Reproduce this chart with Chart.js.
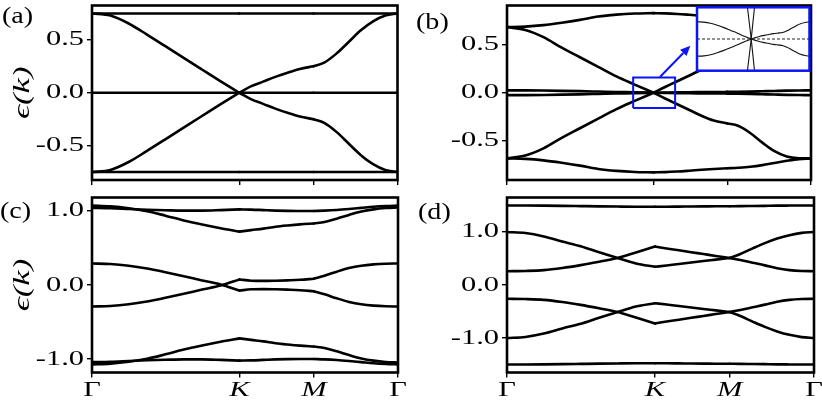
<!DOCTYPE html>
<html><head><meta charset="utf-8">
<script src="https://cdn.jsdelivr.net/npm/chart.js@4/dist/chart.umd.min.js"></script>
<style>
html,body{margin:0;padding:0;background:#fff;}
#wrap{position:relative;width:822px;height:403px;overflow:hidden;background:#fff;}
canvas{position:absolute;left:0;top:0;}
.plab{position:absolute;font-family:'Liberation Serif',serif;font-size:24px;line-height:24px;transform-origin:0 0;transform:scaleX(1.17);color:#000;white-space:nowrap;}
</style></head><body>
<div id="wrap">
<canvas id="ca" width="822" height="403"></canvas>
<canvas id="cb" width="822" height="403"></canvas>
<canvas id="cc" width="822" height="403"></canvas>
<canvas id="cd" width="822" height="403"></canvas>
<canvas id="ci" width="822" height="403"></canvas>
<div class="plab" style="left:2px;top:3px">(a)</div>
<div class="plab" style="left:416px;top:9px">(b)</div>
<div class="plab" style="left:0px;top:198px">(c)</div>
<div class="plab" style="left:418px;top:199px">(d)</div>
</div>
<script>
// ---------- path along the Brillouin zone ----------
const kPath = [0, 0.06, 0.12, 0.18, 0.24, 0.30, 0.36, 0.42, 0.482, 0.52, 0.56, 0.60, 0.64, 0.68, 0.725, 0.76, 0.80, 0.84, 0.88, 0.92, 0.96, 1.0];
const kTicks = [0, 0.482, 0.725, 1];
const kLabels = ['Γ', 'K', 'M', 'Γ'];
const kLabelStyles = ['normal', 'italic', 'italic', 'normal'];

// ---------- y tick values / labels ----------
const yTicksSmall = [-0.5, 0, 0.5];
const yLabelsSmall = ['-0.5', '0.0', '0.5'];
const yTicksLarge = [-1, 0, 1];
const yLabelsLarge = ['-1.0', '0.0', '1.0'];
const yTitle = 'ϵ(k)';

// ---------- panel (a) ----------
const aFlatUp   = [0.75,0.75,0.75,0.75,0.75,0.75,0.75,0.75,0.75,0.75,0.75,0.75,0.75,0.75,0.75,0.75,0.75,0.75,0.75,0.75,0.75,0.75];
const aFlatZero = [0,0,0,0,0,0,0,0,0,0,0,0,0,0,0,0,0,0,0,0,0,0];
const aFlatDown = [-0.75,-0.75,-0.75,-0.75,-0.75,-0.75,-0.75,-0.75,-0.75,-0.75,-0.75,-0.75,-0.75,-0.75,-0.75,-0.75,-0.75,-0.75,-0.75,-0.75,-0.75,-0.75];
const aCross1 = [0.75, 0.73, 0.655, 0.55, 0.44, 0.33, 0.22, 0.11, 0, -0.06, -0.105, -0.15, -0.19, -0.225, -0.25, -0.285, -0.37, -0.48, -0.59, -0.675, -0.73, -0.75];
const aCross2 = [-0.75, -0.73, -0.655, -0.55, -0.44, -0.33, -0.22, -0.11, 0, 0.06, 0.105, 0.15, 0.19, 0.225, 0.25, 0.285, 0.37, 0.48, 0.59, 0.675, 0.73, 0.75];

// ---------- panel (b) ----------
const bTop    = [0.685, 0.69, 0.705, 0.73, 0.76, 0.795, 0.815, 0.826, 0.83, 0.828, 0.822, 0.813, 0.803, 0.795, 0.788, 0.782, 0.772, 0.755, 0.732, 0.71, 0.692, 0.685];
const bCross1 = [0.685, 0.655, 0.58, 0.47, 0.37, 0.27, 0.17, 0.085, 0, -0.06, -0.12, -0.18, -0.24, -0.29, -0.32, -0.345, -0.42, -0.52, -0.61, -0.665, -0.683, -0.685];
const bNear1  = [0.025, 0.0245, 0.0228, 0.020, 0.0165, 0.0125, 0.0085, 0.004, 0, 0.002, 0.004, 0.0053, 0.0066, 0.0078, 0.0087, 0.0094, 0.012, 0.0155, 0.019, 0.0222, 0.024, 0.025];
const bNear2  = [-0.025, -0.0245, -0.0228, -0.020, -0.0165, -0.0125, -0.0085, -0.004, 0, -0.002, -0.004, -0.0053, -0.0066, -0.0078, -0.0087, -0.0094, -0.012, -0.0155, -0.019, -0.0222, -0.024, -0.025];
const bCross2 = [-0.685, -0.655, -0.58, -0.47, -0.37, -0.27, -0.17, -0.085, 0, 0.06, 0.12, 0.18, 0.24, 0.29, 0.32, 0.345, 0.42, 0.52, 0.61, 0.665, 0.683, 0.685];
const bBottom = [-0.685, -0.69, -0.705, -0.73, -0.76, -0.795, -0.815, -0.826, -0.83, -0.828, -0.822, -0.813, -0.803, -0.795, -0.788, -0.782, -0.772, -0.755, -0.732, -0.71, -0.692, -0.685];
const insetZeroX = [0, 1];
const insetZeroY = [0, 0];
const zoomBoxX = [0.415, 0.553, 0.553, 0.415, 0.415];
const zoomBoxY = [-0.16, -0.16, 0.16, 0.16, -0.16];
const arrowX = [0.503, 0.603];
const arrowY = [0.165, 0.49];

// ---------- panel (c) ----------
const cFlatTop = [1.04, 1.035, 1.025, 1.015, 1.008, 1.003, 1.003, 1.01, 1.02, 1.017, 1.01, 1.003, 0.999, 0.997, 0.998, 1.003, 1.012, 1.025, 1.04, 1.055, 1.065, 1.07];
const cDispTop = [1.07, 1.06, 1.035, 0.995, 0.935, 0.87, 0.815, 0.765, 0.72, 0.74, 0.76, 0.785, 0.803, 0.818, 0.83, 0.85, 0.895, 0.945, 0.99, 1.02, 1.038, 1.045];
const cMid1 = [0.29, 0.283, 0.26, 0.222, 0.172, 0.118, 0.062, 0.008, -0.075, -0.058, -0.055, -0.058, -0.063, -0.07, -0.085, -0.125, -0.18, -0.228, -0.26, -0.278, -0.287, -0.29];
const cMid2 = [-0.29, -0.283, -0.26, -0.222, -0.172, -0.118, -0.062, -0.008, 0.075, 0.058, 0.055, 0.058, 0.063, 0.07, 0.085, 0.125, 0.18, 0.228, 0.26, 0.278, 0.287, 0.29];
const cDispBot = [-1.07, -1.06, -1.035, -0.995, -0.935, -0.87, -0.815, -0.765, -0.72, -0.74, -0.76, -0.785, -0.803, -0.818, -0.83, -0.85, -0.895, -0.945, -0.99, -1.02, -1.038, -1.045];
const cFlatBot = [-1.04, -1.035, -1.025, -1.015, -1.008, -1.003, -1.003, -1.01, -1.02, -1.017, -1.01, -1.003, -0.999, -0.997, -0.998, -1.003, -1.012, -1.025, -1.04, -1.055, -1.065, -1.07];

// ---------- panel (d) ----------
const dTop = [1.5, 1.499, 1.497, 1.493, 1.488, 1.483, 1.479, 1.476, 1.475, 1.476, 1.478, 1.48, 1.482, 1.484, 1.485, 1.487, 1.49, 1.493, 1.496, 1.498, 1.5, 1.5];
const dUp1 = [1.0, 0.98, 0.916, 0.82, 0.73, 0.617, 0.51, 0.405, 0.343, 0.369, 0.397, 0.424, 0.452, 0.479, 0.51, 0.585, 0.69, 0.79, 0.875, 0.94, 0.983, 1.0];
const dUp2 = [0.26, 0.265, 0.28, 0.32, 0.375, 0.44, 0.51, 0.615, 0.725, 0.69, 0.655, 0.619, 0.584, 0.548, 0.51, 0.47, 0.42, 0.37, 0.315, 0.28, 0.264, 0.26];
const dDn2 = [-0.26, -0.265, -0.28, -0.32, -0.375, -0.44, -0.51, -0.615, -0.725, -0.69, -0.655, -0.619, -0.584, -0.548, -0.51, -0.47, -0.42, -0.37, -0.315, -0.28, -0.264, -0.26];
const dDn1 = [-1.0, -0.98, -0.916, -0.82, -0.73, -0.617, -0.51, -0.405, -0.343, -0.369, -0.397, -0.424, -0.452, -0.479, -0.51, -0.585, -0.69, -0.79, -0.875, -0.94, -0.983, -1.0];
const dBot = [-1.5, -1.499, -1.497, -1.493, -1.488, -1.483, -1.479, -1.476, -1.475, -1.476, -1.478, -1.48, -1.482, -1.484, -1.485, -1.487, -1.49, -1.493, -1.496, -1.498, -1.5, -1.5];

// ---------- styling ----------
const FONT = "'Liberation Serif', 'DejaVu Serif', serif";
const STRETCH = 1.45;
const BLUE = '#0a14f5';

function stretchText(ctx) {
  const orig = ctx.fillText;
  ctx.fillText = function (t, x, y, mw) {
    this.save();
    this.scale(STRETCH, 1);
    if (mw !== undefined && mw !== null) orig.call(this, t, x / STRETCH, y, mw);
    else orig.call(this, t, x / STRETCH, y);
    this.restore();
  };
}

const framePlugin = {
  id: 'frame',
  afterDatasetsDraw(chart, args, opts) {
    const {ctx, chartArea: a} = chart;
    ctx.save();
    ctx.strokeStyle = opts.color || '#000';
    ctx.lineWidth = opts.width || 2.6;
    ctx.strokeRect(a.left, a.top, a.right - a.left, a.bottom - a.top);
    ctx.restore();
  }
};
const bgPlugin = {
  id: 'bg',
  beforeDatasetsDraw(chart) {
    const {ctx, chartArea: a} = chart;
    ctx.save(); ctx.fillStyle = '#fff';
    ctx.fillRect(a.left, a.top, a.right - a.left, a.bottom - a.top);
    ctx.restore();
  }
};
const arrowPlugin = {
  id: 'arrow',
  afterDatasetsDraw(chart) {
    const {ctx, scales: {x, y}} = chart;
    const x0 = x.getPixelForValue(arrowX[0]), y0 = y.getPixelForValue(arrowY[0]);
    const x1 = x.getPixelForValue(arrowX[1]), y1 = y.getPixelForValue(arrowY[1]);
    const ang = Math.atan2(y1 - y0, x1 - x0), hl = 10, hw = 4.5;
    const bx = x1 - hl * Math.cos(ang), by = y1 - hl * Math.sin(ang);
    ctx.save();
    ctx.strokeStyle = BLUE; ctx.fillStyle = BLUE; ctx.lineWidth = 2;
    ctx.beginPath(); ctx.moveTo(x0, y0); ctx.lineTo(bx, by); ctx.stroke();
    ctx.beginPath(); ctx.moveTo(x1, y1);
    ctx.lineTo(bx + hw * Math.sin(ang), by - hw * Math.cos(ang));
    ctx.lineTo(bx - hw * Math.sin(ang), by + hw * Math.cos(ang));
    ctx.closePath(); ctx.fill();
    ctx.restore();
  }
};

// each band is split at the high-symmetry points (K, M) so kinks stay sharp,
// and each piece is drawn as a smooth monotone curve
const segBounds = kTicks.map(t => kPath.indexOf(t));
function band(ys, extra) {
  const out = [];
  for (let s = 0; s < segBounds.length - 1; s++) {
    const i0 = segBounds[s], i1 = segBounds[s + 1];
    const pts = [];
    for (let i = i0; i <= i1; i++) pts.push({x: kPath[i], y: ys[i]});
    out.push(Object.assign({
      data: pts, borderColor: '#000', borderWidth: 2.6, pointRadius: 0,
      cubicInterpolationMode: 'monotone', fill: false, borderCapStyle: 'round', borderJoinStyle: 'round'
    }, extra || {}));
  }
  return out;
}
function xyLine(xs, ys, extra) {
  return Object.assign({
    data: xs.map((x, i) => ({x: x, y: ys[i]})),
    borderColor: '#000', borderWidth: 1, pointRadius: 0, tension: 0, fill: false
  }, extra || {});
}

const gridOpts = {display: true, drawOnChartArea: false, drawTicks: true, tickLength: 5,
  tickWidth: 1.4, lineWidth: 1.4, tickColor: '#000', color: '#000'};

function makePanel(id, o) {
  const ctx = document.getElementById(id).getContext('2d');
  stretchText(ctx);
  return new Chart(ctx, {
    type: 'line',
    data: {datasets: o.datasets},
    options: {
      responsive: false, animation: false, devicePixelRatio: 1,
      layout: {padding: o.pad},
      plugins: {legend: {display: false}, tooltip: {enabled: false}, frame: {color: '#000', width: 2.6}},
      scales: {
        x: {
          type: 'linear', min: 0, max: 1, position: 'bottom', bounds: 'data',
          afterBuildTicks: s => { s.ticks = kTicks.map(v => ({value: v})); },
          afterFit: s => { s.height = o.xh; s.paddingLeft = 0; s.paddingRight = 0; },
          grid: gridOpts, border: {display: false},
          ticks: {
            display: o.xLabels, autoSkip: false, maxRotation: 0, minRotation: 0, padding: 0, color: '#000',
            font: c => ({family: FONT, size: 21, style: kLabelStyles[c.index] || 'normal'}),
            callback: (v, i) => kLabels[i]
          }
        },
        y: {
          type: 'linear', min: -o.lim, max: o.lim, position: 'left', bounds: 'data',
          afterBuildTicks: s => { s.ticks = o.yTicks.map(v => ({value: v})); },
          afterFit: s => { s.width = o.yw; s.paddingTop = 0; s.paddingBottom = 0; },
          grid: gridOpts, border: {display: false},
          ticks: {autoSkip: false, padding: 3, color: '#000', font: {family: FONT, size: 21},
            callback: (v, i) => o.yLabels[i]},
          title: {display: !!o.title, text: o.title || '', color: '#000',
            font: {family: FONT, size: 24, style: 'italic'}, padding: {top: 8, bottom: 0}}
        }
      }
    },
    plugins: [framePlugin].concat(o.plugins || [])
  });
}

// (a)
makePanel('ca', {
  pad: {left: 0, top: 5.5, right: 424.5, bottom: 213}, xh: 10, yw: 92, lim: 0.825,
  yTicks: yTicksSmall, yLabels: yLabelsSmall, xLabels: false, title: yTitle,
  datasets: [].concat(band(aFlatUp), band(aFlatZero), band(aFlatDown), band(aCross1), band(aCross2))
});
// (b)
makePanel('cb', {
  pad: {left: 420, top: 5.5, right: 11, bottom: 213}, xh: 10, yw: 87, lim: 0.91,
  yTicks: yTicksSmall, yLabels: yLabelsSmall, xLabels: false,
  datasets: [xyLine(zoomBoxX, zoomBoxY, {borderColor: BLUE, borderWidth: 2})].concat(
    band(bTop), band(bCross1), band(bNear1), band(bNear2), band(bCross2), band(bBottom)),
  plugins: [arrowPlugin]
});
// (c)
makePanel('cc', {
  pad: {left: 0, top: 197.5, right: 424, bottom: 0}, xh: 30.5, yw: 92, lim: 1.18,
  yTicks: yTicksLarge, yLabels: yLabelsLarge, xLabels: true, title: yTitle,
  datasets: [].concat(band(cFlatTop), band(cDispTop), band(cMid1), band(cMid2), band(cDispBot), band(cFlatBot))
});
// (d)
makePanel('cd', {
  pad: {left: 420, top: 197.5, right: 8, bottom: 0}, xh: 30.5, yw: 87, lim: 1.65,
  yTicks: yTicksLarge, yLabels: yLabelsLarge, xLabels: true,
  datasets: [].concat(band(dTop), band(dUp1), band(dUp2), band(dDn2), band(dDn1), band(dBot))
});

// inset of (b): same bands, strongly magnified energy axis
(function () {
  const ctx = document.getElementById('ci').getContext('2d');
  const thin = {borderWidth: 1.1, borderColor: '#111'};
  new Chart(ctx, {
    type: 'line',
    data: {datasets: [
      xyLine(insetZeroX, insetZeroY, {borderDash: [3, 2], borderWidth: 1, borderColor: '#222'})
    ].concat(band(bNear1, thin), band(bNear2, thin), band(bCross1, thin), band(bCross2, thin), band(bTop, thin), band(bBottom, thin))},
    options: {
      responsive: false, animation: false, devicePixelRatio: 1,
      layout: {padding: {left: 697, top: 7.3, right: 12.5, bottom: 332.3}},
      plugins: {legend: {display: false}, tooltip: {enabled: false}, frame: {color: BLUE, width: 2.5}},
      scales: {
        x: {type: 'linear', min: 0, max: 1, display: false},
        y: {type: 'linear', min: -0.046, max: 0.046, display: false}
      }
    },
    plugins: [bgPlugin, framePlugin]
  });
})();
</script>
</body></html>
